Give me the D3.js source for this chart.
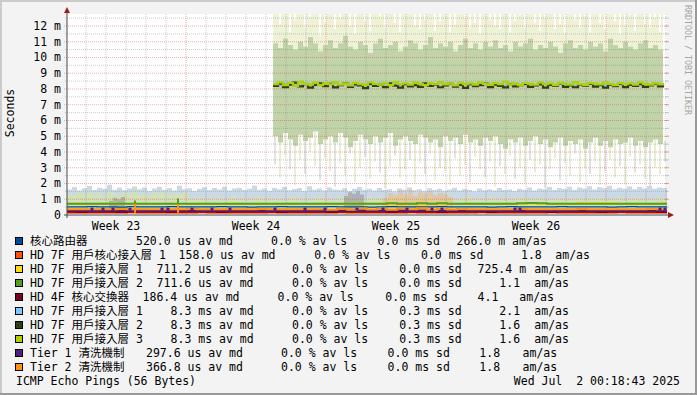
<!DOCTYPE html>
<html lang="zh-Hant">
<head>
<meta charset="utf-8">
<title>ICMP Echo Pings</title>
<script src="https://cdn.jsdelivr.net/npm/d3@7"></script>
<style>
  html, body { margin: 0; padding: 0; background: #f3f3f3; }
  svg { display: block; }
  text { font-family: "DejaVu Sans Mono", "Noto Sans CJK TC", monospace; font-size: 11.5px; fill: #000; white-space: pre; }
</style>
</head>
<body>
<svg id="chart" width="697" height="395"></svg>
<script>
// ---- data (ms) ----
var targetNames = ["核心路由器", "HD 7F 用戶核心接入層 1", "HD 7F 用戶接入層 1", "HD 7F 用戶接入層 2",
  "HD 4F 核心交換器", "HD 7F 用戶接入層 1", "HD 7F 用戶接入層 2", "HD 7F 用戶接入層 3",
  "Tier 1 清洗機制", "Tier 2 清洗機制"];
var targetColors = ["#004c99", "#ff5014", "#ffdc14", "#50a01e", "#800020",
  "#80c8ff", "#304010", "#b0d000", "#502080", "#ff9010"];
var avgMedian = [0.520, 0.158, 0.7112, 0.7116, 0.1864, 8.3, 8.3, 8.3, 0.2976, 0.3668];
var avgLoss = [0, 0, 0, 0, 0, 0, 0, 0, 0, 0];
var avgSd = [0, 0, 0, 0, 0, 0.3, 0.3, 0.3, 0, 0];
var amas = [0.266, 1.8, 0.7254, 1.1, 4.1, 2.1, 1.6, 1.6, 1.8, 1.8];

var weekLabels = ["Week 23", "Week 24", "Week 25", "Week 26"];
var weekStarts = [new Date(2025, 5, 2), new Date(2025, 5, 9), new Date(2025, 5, 16), new Date(2025, 5, 23)];
var yTicks = [0, 1, 2, 3, 4, 5, 6, 7, 8, 9, 10, 11, 12];

// sub-ms smoke, one value every 6 hours over the 30 days
var greenHi = [1.35,1.22,1.48,1.30,1.55,1.28,1.42,1.18,1.50,1.36,
  1.25,1.44,1.31,1.58,1.27,1.40,1.20,1.46,1.33,1.52,
  1.24,1.38,1.29,1.45,1.12,1.05,1.18,0.98,1.10,1.02,
  1.15,0.96,1.08,1.20,1.00,1.12,0.94,1.06,1.18,0.99,
  1.10,1.03,1.16,0.95,1.09,1.21,1.01,1.13,0.97,1.07,
  1.19,1.02,1.11,0.96,1.14,1.05,1.22,0.98,1.08,1.00,
  1.16,1.04,1.12,0.97,1.09,1.18,1.01,1.10,0.95,1.06,
  1.13,1.02,1.17,0.99,1.08,1.03,1.15,0.96,1.11,1.05,
  1.19,1.00,1.09,0.97,1.14,1.06,1.02,1.12,0.98,1.10,
  1.04,1.16,0.99,1.08,1.01,1.13,0.96,1.07,1.11,1.00,
  1.15,1.03,1.09,0.97,1.12,1.05,1.18,0.99,1.06,1.02,
  1.14,0.98,1.10,1.04,1.16,1.00,1.08,0.97,1.11,1.03,1.06];
var blueHi = [1.62,1.78,1.55,1.70,1.84,1.58,1.73,1.66,1.92,1.60,
  1.75,1.57,1.69,1.81,1.63,1.74,1.52,1.68,1.79,1.61,
  1.72,1.56,1.85,1.64,1.70,1.53,1.67,1.76,1.59,1.71,
  1.62,1.80,1.55,1.68,1.73,1.58,1.66,1.88,1.60,1.69,
  1.54,1.72,1.63,1.77,1.57,1.65,1.71,1.52,1.82,1.61,
  1.68,1.56,1.74,1.62,1.59,1.70,1.53,1.66,1.78,1.60,
  1.67,1.55,1.72,1.58,1.64,1.50,1.69,1.61,1.75,1.57,
  1.63,1.52,1.70,1.59,1.66,1.54,1.62,1.73,1.56,1.65,
  1.60,1.51,1.68,1.57,1.64,1.55,1.71,1.58,1.62,1.53,
  1.67,1.60,1.74,1.56,1.69,1.63,1.78,1.59,1.72,1.65,
  1.80,1.61,1.75,1.68,1.83,1.62,1.76,1.70,1.86,1.64,
  1.73,1.67,1.81,1.63,1.77,1.69,1.84,1.66,1.74,1.71,1.68];

// short smoke patches: [day, top]
var grayPatchA = [[2.1,0.9],[2.3,1.1],[2.5,1.0],[2.7,1.15],[2.9,0.85]];
var grayPatchB = [[13.85,1.2],[14.05,1.45],[14.25,1.35],[14.45,1.5],[14.65,1.3],[14.85,1.4]];
var orangeSmoke = [[15.8,1.1],[16.05,1.4],[16.3,1.25],[16.55,1.55],[16.8,1.3],[17.05,1.6],[17.3,1.2],
  [17.55,1.45],[17.8,1.35],[18.05,1.5],[18.3,1.25],[18.55,1.4],[18.8,1.3],[19.05,1.15],[19.3,1.0]];

// 8.3 ms targets, from day 10.3, one value every 6 hours
var topGap = [13,12.1,13,11.6,12.4,13,11.9,12.6,13,11.4,
  12.2,13,11.8,12.5,13,12.0,11.5,13,12.3,11.7,
  13,12.6,11.9,13,12.2,11.6,12.8,13,12.0,11.8,
  12.4,13,11.7,12.3,12.9,11.6,12.1,13,12.5,11.9,
  12.2,11.5,13,12.4,12.0,11.8,13,11.6,12.3,12.7,
  11.9,13,12.2,11.7,12.5,13,11.8,12.1,11.5,13,
  12.4,11.9,12.6,11.6,13,12.2,11.8,13,12.3,11.5,
  12.0,12.7,11.7,13,12.1,11.9,12.5,11.6,13];
var innerHi = [10.9,10.6,11.2,10.8,10.5,11.0,10.7,11.3,10.9,10.4,
  10.8,11.1,10.6,10.9,11.4,10.7,10.5,11.0,10.8,10.3,
  10.9,11.2,10.6,10.8,11.0,10.4,10.7,11.1,10.9,10.5,
  10.8,11.3,10.6,10.9,10.7,11.0,10.4,10.8,11.2,10.6,
  10.9,10.5,11.0,10.7,11.1,10.6,10.8,10.4,11.0,10.7,
  10.9,11.2,10.5,10.8,10.6,11.0,10.7,10.3,10.9,11.1,
  10.6,10.8,10.5,11.0,10.7,10.9,10.4,11.2,10.8,10.6,
  11.0,10.7,10.5,10.9,11.1,10.6,10.8,10.5,10.9];
var innerLo = [5.0,4.6,5.2,4.8,4.4,5.1,4.7,4.9,5.3,4.5,
  4.8,5.0,4.6,5.2,4.9,4.3,4.7,5.1,4.8,4.5,
  5.0,4.6,4.9,5.2,4.4,4.8,5.0,4.7,4.5,5.1,
  4.9,4.6,4.8,4.3,5.0,4.7,4.9,4.5,5.1,4.6,
  4.8,4.4,4.9,4.7,5.0,4.5,4.2,4.8,4.6,4.9,
  4.4,4.7,5.0,4.5,4.8,4.3,4.6,4.9,4.4,4.7,
  4.5,4.8,4.2,4.6,4.9,4.4,4.7,4.3,4.8,4.5,
  4.6,4.9,4.4,4.7,4.3,4.6,4.8,4.5,4.7];
var lowSpike = [3.2,2.4,3.8,2.9,1.9,3.5,2.6,4.0,3.1,2.2,
  3.6,2.8,1.8,3.3,2.5,3.9,2.1,3.0,3.7,2.3,
  3.4,2.7,1.7,3.1,3.8,2.4,2.9,3.5,2.0,3.3,
  2.6,3.9,2.2,3.0,2.8,1.9,3.6,2.5,3.2,2.1,
  3.7,2.9,2.4,3.4,1.8,3.1,2.6,3.8,2.3,3.0,
  2.0,3.5,2.7,3.2,1.7,2.9,3.6,2.2,3.3,2.5,
  3.9,2.1,3.0,2.6,3.4,1.9,2.8,3.5,2.4,3.1,
  2.0,3.7,2.7,3.2,2.3,1.8,3.0,2.6,3.4];
var med6 = [8.28,8.22,8.34,8.26,8.30,8.24,8.36,8.27,8.21,8.32,
  8.25,8.29,8.35,8.23,8.31,8.26,8.20,8.33,8.28,8.24,
  8.30,8.36,8.22,8.27,8.32,8.25,8.29,8.21,8.34,8.26,
  8.31,8.23,8.28,8.35,8.24,8.30,8.27,8.22,8.33,8.25,
  8.29,8.36,8.23,8.31,8.26,8.28,8.21,8.34,8.27,8.30,
  8.24,8.32,8.25,8.29,8.35,8.22,8.28,8.31,8.26,8.33,
  8.23,8.30,8.27,8.34,8.21,8.29,8.25,8.32,8.28,8.24,
  8.31,8.26,8.35,8.22,8.30,8.27,8.29,8.33,8.24];
var med7 = [8.20,8.34,8.12,8.28,8.40,8.16,8.30,8.08,8.26,8.36,
  8.18,8.32,8.10,8.24,8.38,8.14,8.29,8.22,8.05,8.33,
  8.19,8.27,8.12,8.35,8.21,8.09,8.30,8.17,8.25,8.13,
  8.36,8.20,8.28,8.11,8.23,8.32,8.15,8.26,8.07,8.30,
  8.18,8.24,8.34,8.12,8.27,8.20,8.10,8.31,8.16,8.25,
  8.33,8.13,8.22,8.29,8.08,8.26,8.19,8.35,8.14,8.23,
  8.11,8.28,8.21,8.32,8.15,8.24,8.09,8.27,8.18,8.34,
  8.12,8.26,8.20,8.30,8.14,8.22,8.33,8.17,8.10];
var med8 = [8.30,8.42,8.25,8.38,8.20,8.45,8.32,8.28,8.40,8.24,
  8.35,8.30,8.44,8.27,8.36,8.22,8.39,8.31,8.26,8.41,
  8.33,8.28,8.37,8.24,8.43,8.30,8.35,8.27,8.40,8.32,
  8.25,8.38,8.30,8.44,8.29,8.34,8.22,8.39,8.31,8.36,
  8.28,8.42,8.33,8.26,8.37,8.30,8.45,8.29,8.35,8.24,
  8.38,8.32,8.27,8.41,8.30,8.36,8.25,8.39,8.33,8.28,
  8.43,8.31,8.26,8.37,8.34,8.29,8.40,8.32,8.24,8.38,
  8.30,8.35,8.27,8.42,8.33,8.28,8.36,8.31,8.25];

// sub-ms medians, one value every 12 hours
var med1 = [0.52,0.51,0.53,0.52,0.52,0.50,0.53,0.52,0.51,0.52,
  0.53,0.52,0.51,0.52,0.52,0.53,0.51,0.52,0.50,0.52,
  0.52,0.53,0.52,0.51,0.52,0.52,0.53,0.52,0.51,0.52,
  0.50,0.52,0.53,0.52,0.52,0.51,0.52,0.53,0.52,0.51,
  0.52,0.52,0.50,0.52,0.53,0.52,0.51,0.52,0.52,0.53,
  0.52,0.51,0.52,0.52,0.50,0.52,0.53,0.52,0.51,0.52,0.52];
var med2 = [0.15,0.14,0.15,0.15,0.14,0.15,0.16,0.15,0.14,0.15,
  0.15,0.14,0.15,0.16,0.15,0.14,0.15,0.15,0.14,0.15,
  0.16,0.15,0.14,0.15,0.15,0.14,0.15,0.16,0.15,0.14,
  0.15,0.15,0.14,0.15,0.16,0.15,0.14,0.15,0.15,0.14,
  0.15,0.16,0.15,0.14,0.15,0.15,0.14,0.15,0.16,0.15,
  0.14,0.15,0.15,0.14,0.15,0.16,0.15,0.14,0.15,0.15,0.14];
var med3 = [0.70,0.71,0.70,0.70,0.71,0.70,0.70,0.71,0.70,0.70,
  0.71,0.70,0.70,0.71,0.70,0.70,0.71,0.70,0.70,0.71,
  0.70,0.70,0.71,0.70,0.70,0.71,0.70,0.70,0.71,0.70,
  0.70,0.71,0.70,0.70,0.71,0.70,0.70,0.71,0.70,0.70,
  0.71,0.70,0.70,0.71,0.70,0.70,0.71,0.70,0.70,0.71,
  0.70,0.74,0.75,0.75,0.74,0.70,0.71,0.70,0.70,0.71,0.70];
var med4 = [0.71,0.71,0.72,0.71,0.71,0.71,0.72,0.71,0.71,0.71,
  0.72,0.71,0.71,0.71,0.72,0.71,0.71,0.71,0.72,0.71,
  0.71,0.71,0.72,0.71,0.71,0.71,0.72,0.71,0.71,0.71,
  0.72,0.71,0.75,0.71,0.71,0.75,0.71,0.75,0.71,0.72,
  0.71,0.71,0.71,0.72,0.71,0.75,0.76,0.75,0.71,0.71,
  0.72,0.71,0.71,0.71,0.72,0.71,0.71,0.71,0.72,0.71,0.71];
var med5 = [0.20,0.19,0.20,0.21,0.20,0.19,0.20,0.20,0.21,0.20,
  0.19,0.20,0.20,0.21,0.20,0.19,0.20,0.20,0.20,0.21,
  0.20,0.19,0.20,0.20,0.21,0.20,0.19,0.20,0.20,0.21,
  0.20,0.20,0.19,0.20,0.21,0.20,0.20,0.19,0.20,0.20,
  0.21,0.20,0.19,0.20,0.20,0.21,0.20,0.20,0.19,0.20,
  0.20,0.21,0.20,0.19,0.20,0.20,0.21,0.20,0.20,0.19,0.20];
var med9 = [0.28,0.28,0.27,0.28,0.29,0.28,0.28,0.27,0.28,0.28,
  0.29,0.28,0.28,0.27,0.28,0.28,0.29,0.28,0.28,0.27,
  0.28,0.28,0.29,0.28,0.28,0.27,0.28,0.28,0.29,0.28,
  0.28,0.27,0.28,0.28,0.29,0.28,0.28,0.27,0.28,0.28,
  0.29,0.28,0.28,0.27,0.28,0.28,0.29,0.28,0.28,0.27,
  0.28,0.28,0.29,0.28,0.28,0.27,0.28,0.28,0.29,0.28,0.28];
var med10 = [0.37,0.37,0.36,0.37,0.37,0.38,0.37,0.37,0.36,0.37,
  0.37,0.37,0.38,0.37,0.37,0.36,0.37,0.37,0.37,0.38,
  0.37,0.37,0.36,0.37,0.37,0.37,0.33,0.40,0.34,0.42,
  0.35,0.39,0.33,0.41,0.36,0.43,0.34,0.40,0.35,0.38,
  0.37,0.37,0.36,0.37,0.37,0.38,0.37,0.37,0.36,0.37,
  0.37,0.38,0.37,0.37,0.36,0.37,0.37,0.37,0.38,0.37,0.37];
var subMedians = [med1, med2, med3, med4, med5, med9, med10];
var subMedianTarget = [0, 1, 2, 3, 4, 8, 9];

// single-step median spikes: [day, target, from, to]
var spikes = [[3.4, 3, 0.71, 0.92], [3.4, 9, 0.15, 0.71], [5.55, 3, 0.70, 1.05], [5.55, 9, 0.15, 0.70]];
var purpleBlips = [1.25, 1.8, 2.3, 3.15, 4.75, 5.05, 6.25, 7.25, 8.15, 10.4, 11.9, 12.9, 14.5,
  15.8, 17.0, 18.25, 18.75, 22.4, 22.65, 29.65, 29.9];

// ---- layout ----
var W = 697, H = 395;
var DAY = 864e5;
var tStart = new Date(2025, 5, 3, 1, 12);
var tEnd = new Date(+tStart + 30 * DAY);
function at(d) { return new Date(+tStart + d * DAY); }

var x = d3.scaleTime().domain([tStart, tEnd]).range([67, 667]);
var y = d3.scaleLinear().domain([0, 12.76]).range([215, 14]);
var step = d3.curveStepAfter;

// x positions of legend columns [median, loss, sd, am value, am unit]
var legendX = [
  [136.7, 271.7, 378.3, 457.3, 512.7],
  [179.3, 315.0, 421.7, 521.7, 556.0],
  [157.3, 292.7, 400.0, 478.3, 535.0],
  [157.3, 292.7, 400.0, 500.0, 535.0],
  [143.3, 278.3, 386.0, 478.3, 520.0],
  [171.3, 292.7, 400.0, 500.0, 535.0],
  [171.3, 292.7, 400.0, 500.0, 535.0],
  [171.3, 292.7, 400.0, 500.0, 535.0],
  [146.7, 281.7, 388.3, 480.0, 523.3],
  [146.7, 281.7, 388.3, 480.0, 523.3]];

var svg = d3.select("#chart");

// background + 3d frame
svg.append("rect").attr("width", W).attr("height", H).attr("fill", "#f3f3f3");
svg.append("rect").attr("x", 0).attr("y", 0).attr("width", W).attr("height", 2).attr("fill", "#cbcbcb");
svg.append("rect").attr("x", 0).attr("y", 0).attr("width", 2).attr("height", H).attr("fill", "#cbcbcb");
svg.append("rect").attr("x", 0).attr("y", H - 2).attr("width", W).attr("height", 2).attr("fill", "#999");
svg.append("rect").attr("x", W - 2).attr("y", 0).attr("width", 2).attr("height", H).attr("fill", "#999");

svg.append("rect").attr("x", 67).attr("y", 14).attr("width", 600).attr("height", 201).attr("fill", "#fff");

svg.append("clipPath").attr("id", "plotclip")
  .append("rect").attr("x", 67).attr("y", 14).attr("width", 600).attr("height", 201);

var plot = svg.append("g").attr("clip-path", "url(#plotclip)");

// sub-ms smoke
var subPts = blueHi.map(function(v, i) { return { t: at(i * 0.25), blue: v, green: greenHi[i] }; });
plot.append("path").datum(subPts)
  .attr("fill", "#cbd8e6")
  .attr("d", d3.area().curve(step).x(function(d) { return x(d.t); }).y0(y(0.25)).y1(function(d) { return y(d.blue); }));
plot.append("path").datum(subPts)
  .attr("fill", "#d2e1b8")
  .attr("d", d3.area().curve(step).x(function(d) { return x(d.t); }).y0(y(0.25)).y1(function(d) { return y(d.green); }));

var patchArea = d3.area().curve(step).x(function(d) { return x(at(d[0])); }).y0(y(0.15)).y1(function(d) { return y(d[1]); });
plot.append("path").datum(orangeSmoke).attr("fill", "rgba(255,170,70,0.35)").attr("d", patchArea);
plot.append("path").datum(grayPatchA).attr("fill", "rgba(120,120,120,0.4)").attr("d", patchArea);
plot.append("path").datum(grayPatchB).attr("fill", "rgba(120,120,120,0.4)").attr("d", patchArea);

// 8.3 ms smoke
var hiPts = innerHi.map(function(v, i) {
  return { t: at(10.3 + i * 0.25), hi: v, lo: innerLo[i], gap: topGap[i], low: lowSpike[i],
    m6: med6[i], m7: med7[i], m8: med8[i] };
});
plot.selectAll("line.lowspike").data(hiPts).enter().append("line")
  .attr("class", "lowspike")
  .attr("x1", function(d) { return x(d.t) + 2; }).attr("x2", function(d) { return x(d.t) + 2; })
  .attr("y1", function(d) { return y(d.lo); }).attr("y2", function(d) { return y(d.low); })
  .attr("stroke", function(d, i) { return i % 3 ? "#dbe3b8" : "#cdd3cd"; })
  .attr("stroke-width", 1.2);
plot.append("path").datum(hiPts)
  .attr("fill", "#eef2d6")
  .attr("d", d3.area().curve(step).x(function(d) { return x(d.t); }).y0(function(d) { return y(d.hi); }).y1(y(13)));
plot.append("path").datum(hiPts)
  .attr("fill", "#c1d3a8")
  .attr("d", d3.area().curve(step).x(function(d) { return x(d.t); }).y0(function(d) { return y(d.lo); }).y1(function(d) { return y(d.hi); }));
plot.selectAll("line.topgap").data(hiPts.filter(function(d) { return d.gap < 13; })).enter().append("line")
  .attr("class", "topgap")
  .attr("x1", function(d) { return x(d.t) + 2; }).attr("x2", function(d) { return x(d.t) + 2; })
  .attr("y1", function(d) { return y(d.gap); }).attr("y2", y(13))
  .attr("stroke", "#fff").attr("stroke-width", 2);

// grid
var grid = svg.append("g");
d3.timeDay.range(d3.timeDay.ceil(tStart), tEnd).forEach(function(d) {
  var major = d.getDay() === 1;
  grid.append("line")
    .attr("x1", x(d)).attr("x2", x(d)).attr("y1", 14).attr("y2", 215)
    .attr("stroke", major ? "rgba(215,70,70,0.45)" : "rgba(128,128,128,0.4)")
    .attr("stroke-dasharray", "1,1");
});
d3.range(0.5, 12.76, 0.5).forEach(function(v) {
  var major = v % 1 === 0;
  grid.append("line")
    .attr("x1", major ? 64 : 65).attr("x2", 667).attr("y1", y(v)).attr("y2", y(v))
    .attr("stroke", major ? "rgba(215,70,70,0.45)" : "rgba(128,128,128,0.4)")
    .attr("stroke-dasharray", "1,1");
  grid.append("line")
    .attr("x1", 665).attr("x2", 669).attr("y1", y(v)).attr("y2", y(v))
    .attr("stroke", major ? "rgba(215,70,70,0.5)" : "rgba(128,128,128,0.4)");
});

// medians
var lines = svg.append("g").attr("clip-path", "url(#plotclip)");
subMedians.forEach(function(arr, k) {
  var c = targetColors[subMedianTarget[k]];
  lines.append("path").datum(arr)
    .attr("fill", "none").attr("stroke", c).attr("stroke-width", k === 0 ? 1.2 : 2)
    .attr("d", d3.line().curve(step).x(function(d, i) { return x(at(i * 0.5)); }).y(function(d) { return y(d); }));
});
lines.selectAll("rect.blip").data(purpleBlips).enter().append("rect")
  .attr("class", "blip")
  .attr("x", function(d) { return x(at(d)) - 1.5; }).attr("y", y(0.28) - 3)
  .attr("width", 3).attr("height", 3)
  .attr("fill", targetColors[8]);
lines.selectAll("line.spike").data(spikes).enter().append("line")
  .attr("class", "spike")
  .attr("x1", function(d) { return x(at(d[0])); }).attr("x2", function(d) { return x(at(d[0])); })
  .attr("y1", function(d) { return y(d[2]); }).attr("y2", function(d) { return y(d[3]); })
  .attr("stroke", function(d) { return targetColors[d[1]]; }).attr("stroke-width", 2);

[["m6", 5], ["m7", 6], ["m8", 7]].forEach(function(s) {
  lines.append("path").datum(hiPts)
    .attr("fill", "none").attr("stroke", targetColors[s[1]]).attr("stroke-width", 2.2)
    .attr("d", d3.line().curve(step).x(function(d) { return x(d.t); }).y(function(d) { return y(d[s[0]]); }));
});

// axes
svg.append("line").attr("x1", 64).attr("x2", 669).attr("y1", 215).attr("y2", 215).attr("stroke", "#4a4a4a");
svg.append("line").attr("x1", 67).attr("x2", 67).attr("y1", 218).attr("y2", 12).attr("stroke", "#4a4a4a");
svg.append("path").attr("d", "M64,13L70,13L67,7Z").attr("fill", "#a01c1c");
svg.append("path").attr("d", "M668,212L668,218L674,215Z").attr("fill", "#a01c1c");

// tick labels
svg.selectAll("text.ytick").data(yTicks).enter().append("text")
  .attr("class", "ytick")
  .attr("x", 61).attr("y", function(d) { return y(d) + 4; })
  .attr("text-anchor", "end")
  .text(function(d) { return d === 0 ? "0" : d + " m"; });
svg.selectAll("text.xtick").data(weekLabels).enter().append("text")
  .attr("class", "xtick")
  .attr("x", function(d, i) { return x(new Date(+weekStarts[i] + 3.5 * DAY)); }).attr("y", 230)
  .attr("text-anchor", "middle")
  .text(function(d) { return d; });

svg.append("text").attr("transform", "translate(14,113) rotate(-90)")
  .attr("text-anchor", "middle").text("Seconds");
svg.append("text").attr("transform", "translate(685,5) rotate(90)")
  .style("font-size", "8.3px").style("fill", "#a5a5a5")
  .text("RRDTOOL / TOBI OETIKER");

// legend
function fmtMs(v) { return v < 1 ? (v * 1000).toFixed(1) + " us" : v.toFixed(1) + " ms"; }
function fmtAm(v) { return v < 1 ? (v * 1000).toFixed(1) + " m" : v.toFixed(1); }
var leg = svg.append("g");
targetNames.forEach(function(name, i) {
  var cy = 241 + i * 14, base = cy + 4, col = legendX[i];
  leg.append("rect").attr("x", 15.5).attr("y", cy - 3.5).attr("width", 7).attr("height", 7)
    .attr("fill", targetColors[i]).attr("stroke", "#000").attr("stroke-width", 1);
  leg.append("text").attr("x", 30).attr("y", base).text(name);
  var parts = [fmtMs(avgMedian[i]) + " av md", avgLoss[i].toFixed(1) + " % av ls",
    avgSd[i].toFixed(1) + " ms sd", fmtAm(amas[i]), "am/as"];
  parts.forEach(function(p, k) {
    leg.append("text").attr("x", col[k] - 0.7).attr("y", base).text(p);
  });
});
leg.append("text").attr("x", 16).attr("y", 385).text("ICMP Echo Pings (56 Bytes)");
leg.append("text").attr("x", 680).attr("y", 385).attr("text-anchor", "end")
  .attr("xml:space", "preserve").text("Wed Jul  2 00:18:43 2025");
</script>
</body>
</html>
